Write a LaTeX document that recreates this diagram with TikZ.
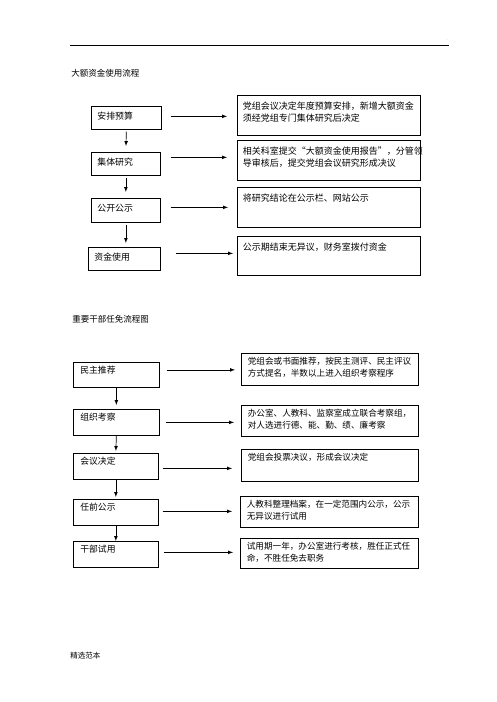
\documentclass[tikz,border=0pt]{standalone}
\usepackage{fontspec}
\setmainfont{Noto Sans CJK SC}
\usetikzlibrary{arrows}

\begin{document}
\begin{tikzpicture}[x=1pt,y=-1pt,>=latex,line width=0.7pt,
	box/.style={draw,anchor=north west,inner ysep=0pt,align=left},
	fundbox/.style={box,inner xsep=6pt,text width=58pt,text height=13.5pt,text depth=9.5pt,font=\fontsize{8.9}{12.5}\selectfont},
	fundnote/.style={box,inner xsep=5.5pt,text width=172pt,text height=14pt,text depth=26pt,font=\fontsize{9}{12.5}\selectfont},
	staffbox/.style={box,inner xsep=7pt,text width=72pt,text height=11.5pt,text depth=14.5pt,font=\fontsize{8.8}{12}\selectfont},
	staffnote/.style={box,inner xsep=6.5pt,text width=164pt,text height=11.5pt,text depth=19.5pt,font=\fontsize{8.6}{12}\selectfont},
	title/.style={anchor=west,inner sep=0pt,font=\fontsize{8.5}{10}\selectfont}]
	\useasboundingbox (0,0) rectangle (496,702);
	% header
	\draw (70,45) -- (449,45);
	\node[text=black!35,font=\tiny] (mark) at (447,40) {.};
	% 大额资金
	\node[title] (t1) at (71,73) {大额资金使用流程};
	\node[fundbox] (a1) at (91,106) {安排预算};
	\node[fundbox,text width=57pt] (a2) at (91,152) {集体研究};
	\node[fundbox,text width=57pt,text depth=10.5pt] (a3) at (91,198) {公开公示};
	\node[fundbox,text width=60pt] (a4) at (88,247) {资金使用};
	\node[fundnote] (r1) at (237,95) {党组会议决定年度预算安排，新增大额资金\\须经党组专门集体研究后决定};
	\node[fundnote] (r2) at (237,140) {相关科室提交“大额资金使用报告”，分管领\\导审核后，提交党组会议研究形成决议};
	\node[fundnote] (r3) at (237,187) {将研究结论在公示栏、网站公示};
	\node[fundnote,text depth=25pt] (r4) at (237,236) {公示期结束无异议，财务室拨付资金};
	\draw[->,shorten <=9pt,shorten >=10pt] ([yshift=1.5pt]a1.east) -- ([yshift=1.5pt]a1.east -| r1.west);
	\draw[->,shorten <=10pt,shorten >=10pt] ([yshift=6.5pt]a2.east) -- ([yshift=6.5pt]a2.east -| r2.west);
	\draw[->,shorten <=10pt,shorten >=9pt] ([yshift=3pt]a3.east) -- ([yshift=3pt]a3.east -| r3.west);
	\draw[->,shorten <=15pt,shorten >=4pt] ([yshift=5.5pt]a4.east) -- ([yshift=5.5pt]a4.east -| r4.west);
	\draw[->,shorten <=2pt,shorten >=6pt] (a1.south) -- (a2.north);
	\draw[->,shorten <=2pt,shorten >=6pt] (a2.south) -- (a3.north);
	\draw[->,shorten <=2pt,shorten >=4pt] (a3.south) -- (a3.south |- a4.north);
	% 干部任免
	\node[title] (t2) at (72,319) {重要干部任免流程图};
	\node[staffbox,text depth=13.5pt] (b1) at (73,362) {民主推荐};
	\node[staffbox] (b2) at (73,409) {组织考察};
	\node[staffbox,text width=71pt] (b3) at (73,453) {会议决定};
	\node[staffbox,text width=71pt] (b4) at (73,499) {任前公示};
	\node[staffbox,text width=71pt] (b5) at (73,541) {干部试用};
	\node[staffnote,text depth=20.5pt] (q1) at (241,353) {党组会或书面推荐，按民主测评、民主评议\\方式提名，半数以上进入组织考察程序};
	\node[staffnote] (q2) at (241,405) {办公室、人教科、监察室成立联合考察组，\\对人选进行德、能、勤、绩、廉考察};
	\node[staffnote,text depth=20.5pt] (q3) at (241,449) {党组会投票决议，形成会议决定};
	\node[staffnote,text width=165pt] (q4) at (240,496) {人教科整理档案，在一定范围内公示，公示\\无异议进行试用};
	\node[staffnote,text width=165pt,text depth=18.5pt] (q5) at (240,538) {试用期一年，办公室进行考核，胜任正式任\\命，不胜任免去职务};
	\draw[->,shorten <=7pt,shorten >=6pt] ([yshift=5pt]b1.east) -- ([yshift=5pt]b1.east -| q1.west);
	\draw[->,shorten <=6pt,shorten >=7pt] (b2.east) -- (b2.east -| q2.west);
	\draw[->,shorten <=4pt,shorten >=9pt] ([yshift=-2pt]b3.east) -- ([yshift=-2pt]b3.east -| q3.west);
	\draw[->,shorten <=4pt,shorten >=8pt] ([yshift=1pt]b4.east) -- ([yshift=1pt]b4.east -| q4.west);
	\draw[->,shorten <=5pt,shorten >=7pt] ([yshift=2pt]b5.east) -- ([yshift=2pt]b5.east -| q5.west);
	\draw[->,shorten >=4pt] (b1.south) -- (b2.north);
	\draw[->,shorten >=2pt] (b2.south) -- (b3.north);
	\draw[->,shorten >=2pt] (b3.south) -- (b4.north);
	\draw[->] (b4.south) -- (b5.north);
	% footer
	\node[title,font=\fontsize{7.5}{9}\selectfont] (foot) at (70,656) {精选范本};
\end{tikzpicture}
\end{document}
